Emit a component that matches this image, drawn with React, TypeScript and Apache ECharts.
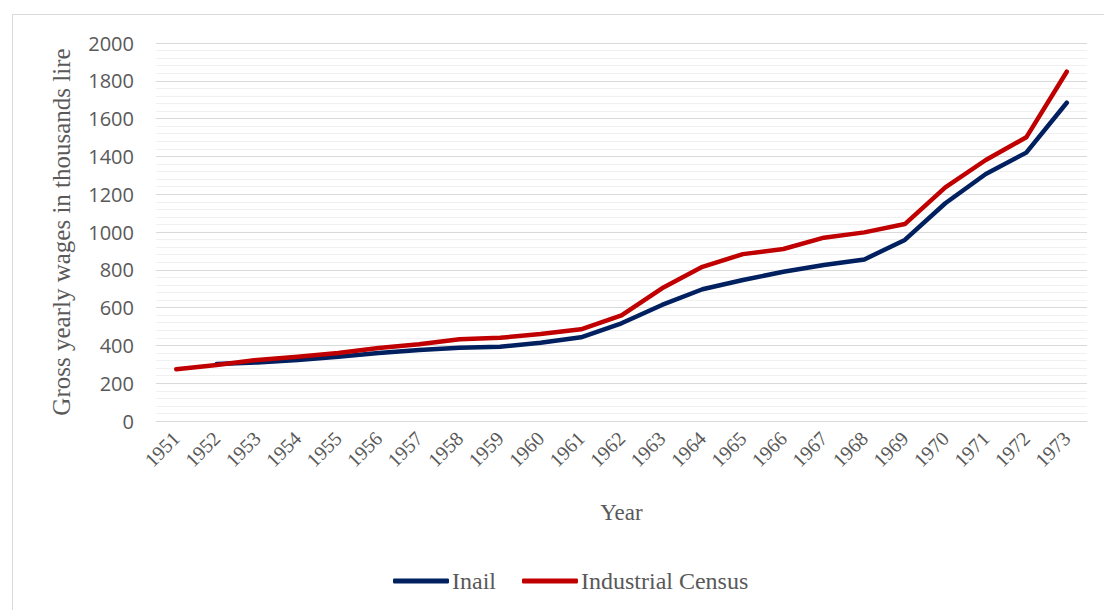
import React, { useEffect, useRef } from "react";
import * as echarts from "echarts";

// Years on the category axis
const years = [
  "1951", "1952", "1953", "1954", "1955", "1956", "1957", "1958", "1959", "1960",
  "1961", "1962", "1963", "1964", "1965", "1966", "1967", "1968", "1969", "1970",
  "1971", "1972", "1973",
];

// Gross yearly wages (thousands of lire) by source
const inail = [
  null, 302, 310, 323, 340, 360, 376, 388, 393, 414,
  443, 517, 614, 697, 746, 790, 825, 855, 958, 1152,
  1307, 1420, 1684,
];
const industrialCensus = [
  274, 296, 323, 340, 360, 386, 406, 432, 440, 460,
  485, 559, 702, 816, 883, 910, 970, 998, 1042, 1236,
  1381, 1501, 1848,
];

const SERIF = "'Liberation Serif', 'Times New Roman', serif";
const SANS = "'Open Sans', 'Noto Sans', sans-serif";

export default function App() {
  const ref = useRef<HTMLDivElement>(null);

  useEffect(() => {
    if (!ref.current) return;
    const chart = echarts.init(ref.current, null, { renderer: "svg" });
    chart.setOption({
      animation: false,
      backgroundColor: "#ffffff",
      graphic: [
        {
          type: "rect",
          shape: { x: 12.5, y: 14.5, width: 1100, height: 620 },
          style: { fill: "none", stroke: "#d9d9d9", lineWidth: 1 },
          silent: true,
        },
      ],
      grid: { left: 156, right: 17, top: 43, bottom: 189, containLabel: false },
      legend: {
        top: 564,
        left: 388,
        itemWidth: 56,
        itemHeight: 5,
        itemGap: 26,
        icon: "roundRect",
        textStyle: { fontFamily: SERIF, fontSize: 24, color: "#595959", padding: [0, 0, 0, -2] },
        data: ["Inail", "Industrial Census"],
      },
      xAxis: {
        type: "category",
        data: years,
        boundaryGap: true,
        name: "Year",
        nameLocation: "middle",
        nameGap: 80,
        nameTextStyle: { fontFamily: SERIF, fontSize: 23, color: "#595959" },
        axisLine: { show: true, lineStyle: { color: "#d9d9d9", width: 1 } },
        axisTick: { show: false },
        axisLabel: {
          rotate: 45,
          margin: 14,
          fontFamily: SERIF,
          fontSize: 20,
          color: "#595959",
          interval: 0,
        },
      },
      yAxis: {
        type: "value",
        min: 0,
        max: 2000,
        interval: 200,
        name: "Gross yearly wages in thousands lire",
        nameLocation: "middle",
        nameGap: 82,
        nameTextStyle: { fontFamily: SERIF, fontSize: 25, color: "#595959" },
        axisLine: { show: false },
        axisTick: { show: false },
        axisLabel: {
          margin: 22,
          fontFamily: SANS,
          fontSize: 20,
          color: "#595959",
          formatter: (v: number) => String(v),
        },
        splitLine: { show: true, lineStyle: { color: "#d9d9d9", width: 1 } },
        minorTick: { show: false, splitNumber: 5 },
        minorSplitLine: { show: true, lineStyle: { color: "#f0f0f0", width: 1 } },
      },
      series: [
        {
          name: "Inail",
          type: "line",
          data: inail,
          showSymbol: false,
          symbol: "none",
          connectNulls: false,
          lineStyle: { color: "#002060", width: 4.5, cap: "round", join: "round" },
          itemStyle: { color: "#002060" },
        },
        {
          name: "Industrial Census",
          type: "line",
          data: industrialCensus,
          showSymbol: false,
          symbol: "none",
          lineStyle: { color: "#c00000", width: 4.5, cap: "round", join: "round" },
          itemStyle: { color: "#c00000" },
        },
      ],
    });
    return () => chart.dispose();
  }, []);

  return (
    <div
      ref={ref}
      style={{ position: "fixed", left: 0, top: 0, width: 1104, height: 610 }}
    />
  );
}
